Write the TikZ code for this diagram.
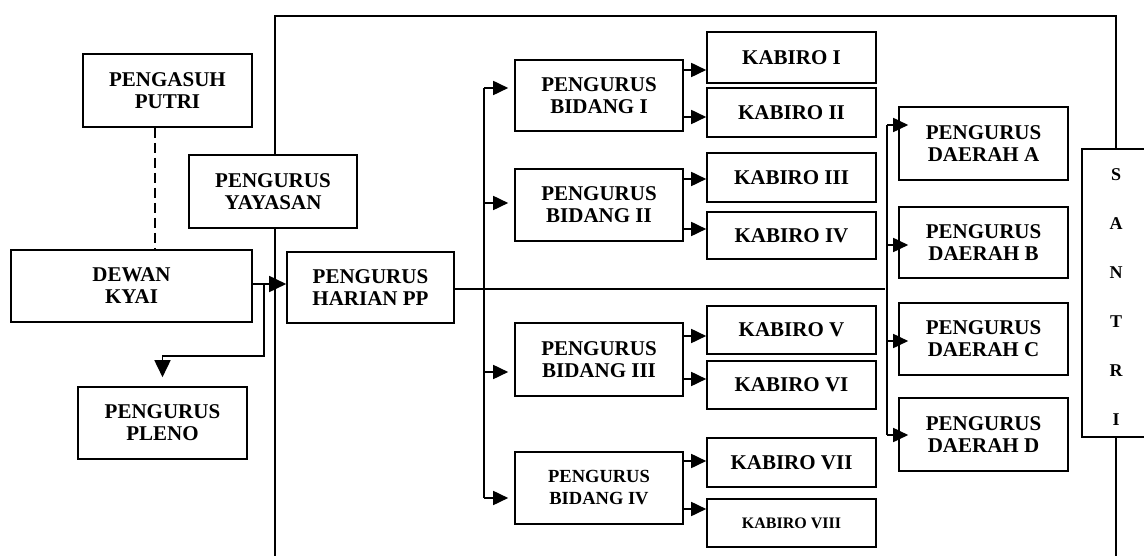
\documentclass[tikz,border=0pt]{standalone}
\usepackage{fontspec}
\setmainfont{Liberation Serif}
\usetikzlibrary{arrows.meta}
\begin{document}
\begin{tikzpicture}[x=1pt,y=-1pt,
  box/.style={draw, line width=1.6pt, inner sep=0pt, align=center,
    font=\bfseries\fontsize{21}{22}\selectfont},
  conn/.style={line width=1.7pt},
  arr/.style={line width=1.7pt, -{Triangle[length=15pt,width=14pt]}},
  bigarr/.style={line width=1.7pt, -{Triangle[length=17pt,width=16pt]}}]
\useasboundingbox (0,0) rectangle (1144,556);
% left nodes
\node[box, minimum width=169pt, minimum height=73pt] (putri) at (167.5,90.5) {PENGASUH\\PUTRI};
\node[box, minimum width=168pt, minimum height=73pt] (yayasan) at (273,191.5) {PENGURUS\\YAYASAN};
\node[box, minimum width=241pt, minimum height=72pt] (dewan) at (131.5,286) {DEWAN\\KYAI};
\node[box, minimum width=167pt, minimum height=71pt] (harian) at (370.5,287.5) {PENGURUS\\HARIAN PP};
\node[box, minimum width=169pt, minimum height=72pt] (pleno) at (162.5,423) {PENGURUS\\PLENO};
% bidang
\node[box, minimum width=168pt, minimum height=71pt] (bid1) at (599,95.5) {PENGURUS\\BIDANG I};
\node[box, minimum width=168pt, minimum height=72pt] (bid2) at (599,205) {PENGURUS\\BIDANG II};
\node[box, minimum width=168pt, minimum height=73pt] (bid3) at (599,359.5) {PENGURUS\\BIDANG III};
\node[box, minimum width=168pt, minimum height=72pt, font=\bfseries\fontsize{18.5}{22}\selectfont] (bid4) at (599,488) {PENGURUS\\BIDANG IV};
% kabiro
\node[box, minimum width=169pt, minimum height=51pt] (kab1) at (791.5,57.5) {KABIRO I};
\node[box, minimum width=169pt, minimum height=49pt] (kab2) at (791.5,112.5) {KABIRO II};
\node[box, minimum width=169pt, minimum height=49pt] (kab3) at (791.5,177.5) {KABIRO III};
\node[box, minimum width=169pt, minimum height=47pt] (kab4) at (791.5,235.5) {KABIRO IV};
\node[box, minimum width=169pt, minimum height=48pt] (kab5) at (791.5,330) {KABIRO V};
\node[box, minimum width=169pt, minimum height=48pt] (kab6) at (791.5,385) {KABIRO VI};
\node[box, minimum width=169pt, minimum height=49pt] (kab7) at (791.5,462.5) {KABIRO VII};
\node[box, minimum width=169pt, minimum height=48pt, font=\bfseries\fontsize{16}{18}\selectfont] (kab8) at (791.5,523) {KABIRO VIII};
% daerah
\node[box, minimum width=169pt, minimum height=73pt] (dA) at (983.5,143.5) {PENGURUS\\DAERAH A};
\node[box, minimum width=169pt, minimum height=71pt] (dB) at (983.5,242.5) {PENGURUS\\DAERAH B};
\node[box, minimum width=169pt, minimum height=72pt] (dC) at (983.5,339) {PENGURUS\\DAERAH C};
\node[box, minimum width=169pt, minimum height=73pt] (dD) at (983.5,434.5) {PENGURUS\\DAERAH D};
% santri
\node[box, minimum width=68pt, minimum height=288pt, font=\bfseries\fontsize{18}{49}\selectfont] (santri) at (1116,293) {\rule{0pt}{20pt}S\\A\\N\\T\\R\\I};
% helper coordinates
\coordinate (fx) at (275,0);
\coordinate (ftop) at (0,16);
\coordinate (fbot) at (0,560);
\coordinate (pbend) at (0,356);
\coordinate (bbus) at (484,0);
\coordinate (dbus) at (887,0);
% dashed line
\draw[line width=1.3pt, dash pattern=on 10pt off 5pt] ([xshift=-12.5pt]putri.south) -- ([xshift=-12.5pt]putri.south |- dewan.north);
% frame
\draw[conn] (yayasan.north -| fx) |- (ftop -| santri.north) -- (santri.north);
\draw[conn] (yayasan.south -| fx) -- (fbot -| fx);
\draw[conn] (santri.south) -- (santri.south |- fbot);
% dewan -> harian
\draw[bigarr] ([yshift=2pt]dewan.east) -- ([yshift=2pt]dewan.east -| harian.west);
\coordinate (pj) at ([xshift=11pt,yshift=2pt]dewan.east);
\draw[bigarr, shorten >=9pt] (pj) |- (pbend -| pleno.north) -- (pleno.north);
% harian -> daerah bus
\draw[conn] ([yshift=-1.5pt]harian.east) -- ([xshift=-2pt,yshift=-1.5pt]harian.east -| dbus);
% bidang bus
\draw[conn] ([yshift=7.5pt]bid1.west -| bbus) -- ([yshift=-10pt]bid4.west -| bbus);
\draw[arr, shorten >=6pt] ([yshift=7.5pt]bid1.west -| bbus) -- ([yshift=7.5pt]bid1.west);
\draw[arr, shorten >=6pt] ([yshift=2pt]bid2.west -| bbus) -- ([yshift=2pt]bid2.west);
\draw[arr, shorten >=6pt] ([yshift=-12.5pt]bid3.west -| bbus) -- ([yshift=-12.5pt]bid3.west);
\draw[arr, shorten >=6pt] ([yshift=-10pt]bid4.west -| bbus) -- ([yshift=-10pt]bid4.west);
% bidang -> kabiro
\draw[arr] ([yshift=-12.5pt]kab1.west -| bid1.east) -- ([yshift=-12.5pt]kab1.west);
\draw[arr] ([yshift=-4.5pt]kab2.west -| bid1.east) -- ([yshift=-4.5pt]kab2.west);
\draw[arr] ([yshift=-1.5pt]kab3.west -| bid2.east) -- ([yshift=-1.5pt]kab3.west);
\draw[arr] ([yshift=6.5pt]kab4.west -| bid2.east) -- ([yshift=6.5pt]kab4.west);
\draw[arr] ([yshift=-6pt]kab5.west -| bid3.east) -- ([yshift=-6pt]kab5.west);
\draw[arr] ([yshift=6pt]kab6.west -| bid3.east) -- ([yshift=6pt]kab6.west);
\draw[arr] ([yshift=1.5pt]kab7.west -| bid4.east) -- ([yshift=1.5pt]kab7.west);
\draw[arr] ([yshift=14pt]kab8.west -| bid4.east) -- ([yshift=14pt]kab8.west);
% daerah bus
\draw[conn] ([yshift=18.5pt]dA.west -| dbus) -- ([yshift=-0.5pt]dD.west -| dbus);
\draw[arr, shorten >=-10pt] ([yshift=18.5pt]dA.west -| dbus) -- ([yshift=18.5pt]dA.west);
\draw[arr, shorten >=-10pt] ([yshift=-2.5pt]dB.west -| dbus) -- ([yshift=-2.5pt]dB.west);
\draw[arr, shorten >=-10pt] ([yshift=-2pt]dC.west -| dbus) -- ([yshift=-2pt]dC.west);
\draw[arr, shorten >=-10pt] ([yshift=-0.5pt]dD.west -| dbus) -- ([yshift=-0.5pt]dD.west);
\end{tikzpicture}
\end{document}
